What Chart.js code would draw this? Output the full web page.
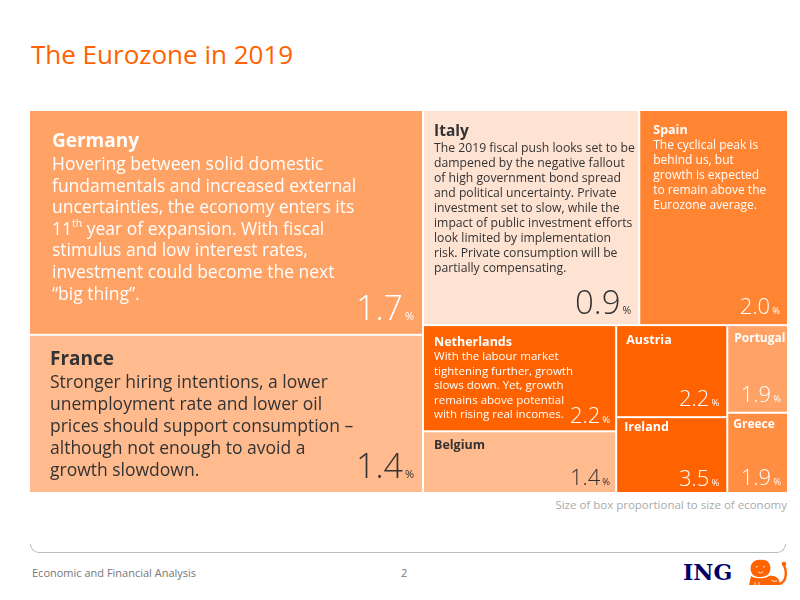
<!DOCTYPE html>
<html>
<head>
<meta charset="utf-8">
<script src="https://cdn.jsdelivr.net/npm/chart.js@4.4.1/dist/chart.umd.min.js"></script>
<style>
  body { margin: 0; width: 800px; height: 600px; background: #fff; font-family: "Open Sans", sans-serif; position: relative; overflow: hidden; }
  #title { position: absolute; left: 31px; top: 36px; font-size: 26px; color: #FF6200; }
  #wrap { position: absolute; left: 29px; top: 110px; width: 759px; height: 383px; }
  #note { position: absolute; right: 13px; top: 497px; font-size: 11.5px; color: #aaa; }
  #rule { position: absolute; left: 30px; top: 544px; width: 754px; height: 8px; border: 1px solid #bbb; border-top: none; border-radius: 0 0 9px 9px; }
  #foot { position: absolute; left: 32px; top: 565px; font-size: 11px; color: #777; }
  #page { position: absolute; left: 401px; top: 565px; font-size: 11px; color: #777; }
  #logo { position: absolute; left: 683px; top: 559px; font-family: "DejaVu Serif", "Liberation Serif", serif; font-weight: bold; font-size: 22px; color: #000066; }
  #lion { position: absolute; left: 747px; top: 559px; }
</style>
</head>
<body>
<div id="title">The Eurozone in 2019</div>
<div id="wrap"><canvas id="treemap"></canvas></div>
<div id="note">Size of box proportional to size of economy</div>
<div id="rule"></div>
<div id="foot">Economic and Financial Analysis</div>
<div id="page">2</div>
<div id="logo">ING</div>
<svg id="lion" width="42" height="27" viewBox="0 0 42 27">
  <g fill="#FF6200">
    <path d="M4 12 C2 5 8 0 14 1 C20 0 25 5 23 12 C22 16 18 18 13 18 C8 18 5 16 4 12 Z"/>
    <path d="M2 26 L4 17 C8 20 18 20 22 17 C28 16 33 19 33 26 Z"/>
    <path d="M32 24 C38 22 39 14 36 7 L38 6 C42 14 40 24 33 26 Z"/>
    <circle cx="37" cy="5" r="2.3"/>
  </g>
  <g fill="none" stroke="#fff" stroke-width="0.8">
    <path d="M9 8 Q10 7 11 8 M16 8 Q17 7 18 8 M11 13 Q13.5 15 16 13"/>
    <path d="M8 23 L8 26 M12 23 L12 26 M24 21 Q27 23 30 22"/>
  </g>
</svg>

<script>
// === DONNÉES ===
const countries = ["Germany", "France", "Italy", "Spain", "Netherlands", "Belgium", "Austria", "Ireland", "Portugal", "Greece"];

// taille de l'économie (poids des cases)
const economySize = [3344, 2353, 1756, 1208, 774, 450, 386, 318, 201, 184];

// croissance 2019 (%)
const growth = [1.7, 1.4, 0.9, 2.0, 2.2, 1.4, 2.2, 3.5, 1.9, 1.9];

const descriptions = [
    ["Hovering between solid domestic", "fundamentals and increased external", "uncertainties, the economy enters its", "11^th year of expansion. With fiscal", "stimulus and low interest rates,", "investment could become the next", "“big thing”."],
    ["Stronger hiring intentions, a lower", "unemployment rate and lower oil", "prices should support consumption –", "although not enough to avoid a", "growth slowdown."],
    ["The 2019 fiscal push looks set to be", "dampened by the negative fallout", "of high government bond spread", "and political uncertainty. Private", "investment set to slow, while the", "impact of public investment efforts", "look limited by implementation", "risk. Private consumption will be", "partially compensating."],
    ["The cyclical peak is", "behind us, but", "growth is expected", "to remain above the", "Eurozone average."],
    ["With the labour market", "tightening further, growth", "slows down. Yet, growth", "remains above potential", "with rising real incomes."],
    [], [], [], [], []
];

// découpage : h = côte à côte, v = empilé (indices dans countries)
const splitTree = ["h", ["v", 0, 1], ["v", ["h", 2, 3], ["h", ["v", 4, 5], ["v", 6, 7], ["v", 8, 9]]]];


// === STYLES DES CASES ===
const WHITE = "#ffffff", DARK = "#333333";
const cellStyle = {
    "Germany":     { fill: "#FFA266", ink: WHITE, pad: 22, titleY: 31, titleSize: 19,   bodyY: 54, bodySize: 17.5, lh: 21.6, numSize: 34, pctSize: 11,  numBottom: 14, numRight: 8 },
    "France":      { fill: "#FFBA8E", ink: DARK,  pad: 20, titleY: 24, titleSize: 19,   bodyY: 47, bodySize: 17.5, lh: 22,   numSize: 34, pctSize: 11,  numBottom: 14, numRight: 8 },
    "Italy":       { fill: "#FEE3D3", ink: DARK,  pad: 10, titleY: 21, titleSize: 15.5, bodyY: 38, bodySize: 12.2, lh: 15,   numSize: 33, pctSize: 10.5, numBottom: 10, numRight: 7 },
    "Spain":       { fill: "#FF8533", ink: WHITE, pad: 13, titleY: 19, titleSize: 12.5, bodyY: 35, bodySize: 12,   lh: 15,   numSize: 22, pctSize: 9.5, numBottom: 10, numRight: 7 },
    "Netherlands": { fill: "#FF6200", ink: WHITE, pad: 10, titleY: 16, titleSize: 12.5, bodyY: 31, bodySize: 11.5, lh: 14.5, numSize: 22, pctSize: 9.5, numBottom: 7,  numRight: 5 },
    "Belgium":     { fill: "#FFBA8E", ink: DARK,  pad: 10, titleY: 13, titleSize: 12.5, bodyY: 0,  bodySize: 11.5, lh: 14,   numSize: 22, pctSize: 9.5, numBottom: 7,  numRight: 5 },
    "Austria":     { fill: "#FF6200", ink: WHITE, pad: 9,  titleY: 14, titleSize: 12.5, bodyY: 0,  bodySize: 11.5, lh: 14,   numSize: 22, pctSize: 9.5, numBottom: 10, numRight: 7 },
    "Ireland":     { fill: "#FF6200", ink: WHITE, pad: 7,  titleY: 9,  titleSize: 12.5, bodyY: 0,  bodySize: 11.5, lh: 14,   numSize: 22, pctSize: 9.5, numBottom: 6,  numRight: 7 },
    "Portugal":    { fill: "#FFA266", ink: WHITE, pad: 6,  titleY: 12, titleSize: 12,   bodyY: 0,  bodySize: 11.5, lh: 14,   numSize: 22, pctSize: 9.5, numBottom: 10, numRight: 6 },
    "Greece":      { fill: "#FF8D42", ink: WHITE, pad: 5,  titleY: 11, titleSize: 12,   bodyY: 0,  bodySize: 11.5, lh: 14,   numSize: 22, pctSize: 9.5, numBottom: 7,  numRight: 6 }
};
const FONT = '"Open Sans", sans-serif';


// === CALCUL DU TREEMAP (unités 0..1) ===
function weight(node) {
    if (typeof node === "number") return economySize[node];
    return node.slice(1).reduce((s, k) => s + weight(k), 0);
}

function layout(node, x0, y0, x1, y1, out) {
    if (typeof node === "number") {
        out[node] = { x0, y0, x1, y1 };
        return;
    }
    const dir = node[0];
    const kids = node.slice(1);
    const total = weight(node);
    let pos = dir === "h" ? x0 : y0;
    kids.forEach(k => {
        const span = (dir === "h" ? x1 - x0 : y1 - y0) * weight(k) / total;
        if (dir === "h") layout(k, pos, y0, pos + span, y1, out);
        else layout(k, x0, pos, x1, pos + span, out);
        pos += span;
    });
}

let cells = [];
layout(splitTree, 0, 0, 1, 1, cells);


// === DESSIN DES CASES ===
function drawLine(ctx, text, x, y, size) {
    // "^xx" = exposant
    const parts = text.split(/\^(\w+)/);
    parts.forEach((p, i) => {
        if (i % 2 === 1) {
            ctx.font = (size * 0.6) + "px " + FONT;
            ctx.fillText(p, x, y - size * 0.32);
        } else {
            ctx.font = size + "px " + FONT;
            ctx.fillText(p, x, y);
        }
        x += ctx.measureText(p).width;
    });
}

const treemapPlugin = {
    id: "treemap",
    afterDatasetsDraw(chart) {
        const ctx = chart.ctx;
        const xs = chart.scales.x, ys = chart.scales.y;

        cells.forEach((c, i) => {
            const name = countries[i];
            const st = cellStyle[name];
            const left = xs.getPixelForValue(c.x0) + 1;
            const right = xs.getPixelForValue(c.x1) - 1;
            const top = ys.getPixelForValue(c.y0) + 1;
            const bottom = ys.getPixelForValue(c.y1) - 1;

            ctx.save();
            ctx.fillStyle = st.fill;
            ctx.fillRect(left, top, right - left, bottom - top);

            ctx.fillStyle = st.ink;
            ctx.textAlign = "left";
            ctx.textBaseline = "middle";
            ctx.font = "bold " + st.titleSize + "px " + FONT;
            ctx.fillText(name, left + st.pad, top + st.titleY);

            descriptions[i].forEach((line, j) => {
                drawLine(ctx, line, left + st.pad, top + st.bodyY + j * st.lh, st.bodySize);
            });

            // valeur de croissance
            ctx.textAlign = "right";
            ctx.textBaseline = "alphabetic";
            const baseY = bottom - st.numBottom;
            let xr = right - st.numRight;
            ctx.font = st.pctSize + "px " + FONT;
            ctx.fillText("%", xr, baseY);
            xr -= ctx.measureText("%").width + 2;
            ctx.font = "300 " + st.numSize + "px " + FONT;
            ctx.fillText(growth[i].toFixed(1), xr, baseY);
            ctx.restore();
        });
    }
};


// === CHART ===
const ctx = document.getElementById("treemap");

new Chart(ctx, {
    type: "scatter",
    data: {
        datasets: [{
            label: "Eurozone",
            data: cells.map((c, i) => ({ x: (c.x0 + c.x1) / 2, y: (c.y0 + c.y1) / 2, name: countries[i] })),
            pointRadius: 0,
            pointHoverRadius: 0
        }]
    },
    options: {
        responsive: true,
        maintainAspectRatio: false,
        animation: false,
        layout: { padding: 0 },
        scales: {
            x: { type: "linear", min: 0, max: 1, display: false },
            y: { type: "linear", min: 0, max: 1, reverse: true, display: false }
        },
        plugins: {
            legend: { display: false },
            tooltip: { enabled: false }
        }
    },
    plugins: [treemapPlugin]
});
</script>
</body>
</html>
